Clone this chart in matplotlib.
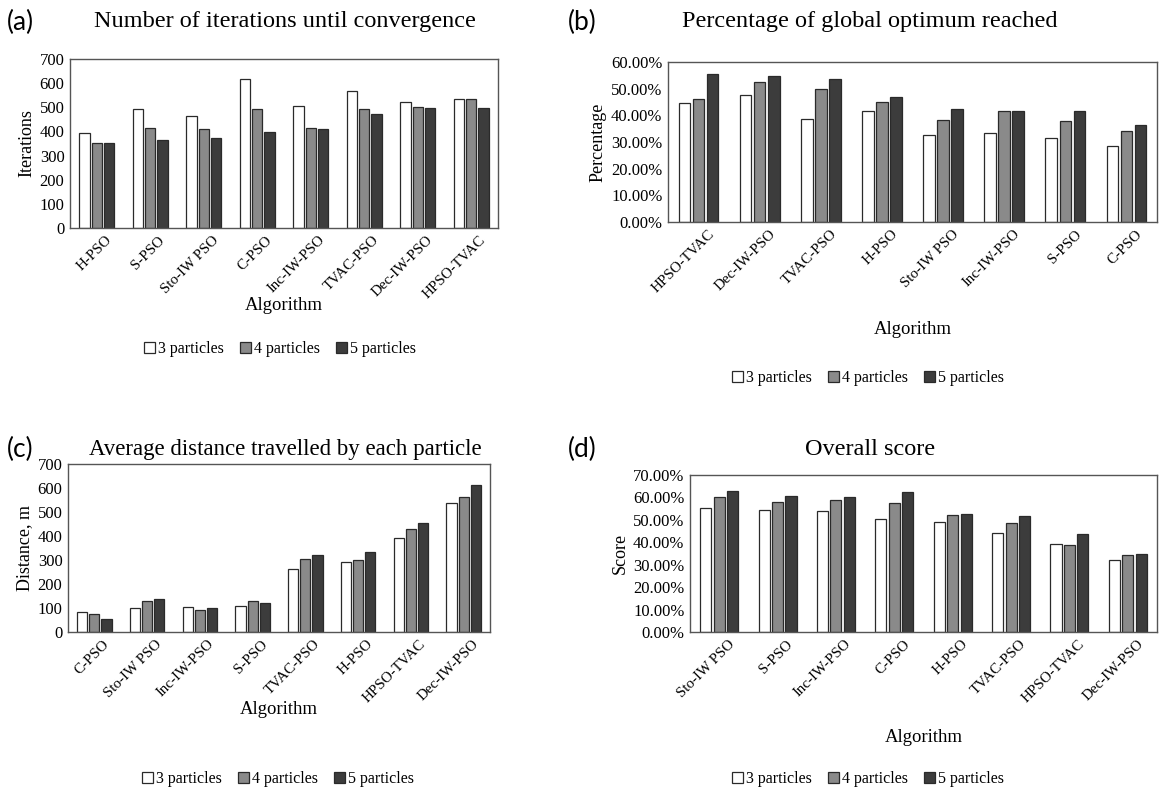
import matplotlib.pyplot as plt
from matplotlib.ticker import FuncFormatter
import numpy as np

# ---------- data ----------
series = ["3 particles", "4 particles", "5 particles"]

algos_a = ["H-PSO", "S-PSO", "Sto-IW PSO", "C-PSO", "Inc-IW-PSO", "TVAC-PSO", "Dec-IW-PSO", "HPSO-TVAC"]
iter_3 = [392, 492, 464, 618, 507, 566, 521, 533]
iter_4 = [352, 416, 412, 492, 413, 493, 500, 536]
iter_5 = [352, 366, 372, 399, 410, 474, 499, 499]

algos_b = ["HPSO-TVAC", "Dec-IW-PSO", "TVAC-PSO", "H-PSO", "Sto-IW PSO", "Inc-IW-PSO", "S-PSO", "C-PSO"]
glob_3 = [44.6, 47.5, 38.8, 41.8, 32.5, 33.3, 31.5, 28.4]
glob_4 = [46.3, 52.4, 49.8, 45.1, 38.1, 41.5, 37.9, 34.1]
glob_5 = [55.5, 54.8, 53.8, 47.0, 42.4, 41.5, 41.5, 36.3]

algos_c = ["C-PSO", "Sto-IW PSO", "Inc-IW-PSO", "S-PSO", "TVAC-PSO", "H-PSO", "HPSO-TVAC", "Dec-IW-PSO"]
dist_3 = [82, 102, 105, 108, 264, 291, 391, 538]
dist_4 = [73, 130, 91, 130, 304, 300, 428, 564]
dist_5 = [54, 136, 100, 122, 320, 332, 453, 614]

algos_d = ["Sto-IW PSO", "S-PSO", "Inc-IW-PSO", "C-PSO", "H-PSO", "TVAC-PSO", "HPSO-TVAC", "Dec-IW-PSO"]
score_3 = [55.5, 54.4, 53.9, 50.5, 49.2, 44.2, 39.4, 31.9]
score_4 = [60.2, 57.8, 59.0, 57.3, 52.2, 48.7, 39.0, 34.4]
score_5 = [63.0, 60.7, 60.1, 62.4, 52.5, 51.5, 43.8, 34.8]

colors = ["white", "#8a8a8a", "#3c3c3c"]
W, H = 1163, 791
serif = "Liberation Serif"


def box(l, t, r, b):
    return [l / W, 1 - b / H, (r - l) / W, (b - t) / H]


def fx(x):
    return x / W


def fy(y):
    return 1 - y / H


def panel(fig, rect, cats, vals, ylabel, ymax, pct, letter, title, lx, tx, ty, tsize, xl_y, leg_y, leg_x):
    ax = fig.add_axes(box(*rect))
    x = np.arange(len(cats))
    for i, v in enumerate(vals):
        ax.bar(x + (i - 1) * 0.23, v, 0.19, color=colors[i], edgecolor="#2a2a2a",
               linewidth=0.9, label=series[i])
    ax.set_xlim(-0.5, len(cats) - 0.5)
    ax.set_ylim(0, ymax)
    ax.set_yticks(np.arange(0, ymax + 1, 10 if pct else 100))
    if pct:
        ax.yaxis.set_major_formatter(FuncFormatter(lambda v, p: "%.2f%%" % v))
    # tick marks are hidden; labels sit a little right of the group centre like Excel
    ax.set_xticks(x + 0.15)
    ax.set_xticklabels(cats, rotation=45, ha="right", rotation_mode="anchor",
                       family=serif, fontsize=10.8)
    for t in ax.get_yticklabels():
        t.set_family(serif)
        t.set_fontsize(12)
    ax.tick_params(length=0, pad=4)
    ax.tick_params(axis="x", pad=4)
    for s in ax.spines.values():
        s.set_color("#555555")
        s.set_linewidth(1.0)
    ax.set_ylabel(ylabel, family=serif, fontsize=13, labelpad=3)
    fig.text(fx(lx), fy(ty), letter, family="Lato", fontsize=19, va="center", ha="left")
    fig.text(fx(tx), fy(ty), title, family=serif, fontsize=tsize, va="center", ha="center")
    cx = (rect[0] + rect[2]) / 2
    fig.text(fx(cx), fy(xl_y), "Algorithm", family=serif, fontsize=13.5, va="center", ha="center")
    fig.legend(*ax.get_legend_handles_labels(), loc="center", bbox_to_anchor=(fx(leg_x), fy(leg_y)),
               ncol=3, frameon=False, prop={"family": serif, "size": 11.5},
               handlelength=0.7, handleheight=0.7, handletextpad=0.2, columnspacing=1.0)
    return ax


fig = plt.figure(figsize=(W / 100, H / 100), dpi=100)

panel(fig, (70, 59, 498, 228), algos_a, [iter_3, iter_4, iter_5], "Iterations", 700, False,
      "(a)", "Number of iterations until convergence", 7, 285, 22, 17.5, 305, 349, 280)
panel(fig, (668, 62, 1157, 222), algos_b, [glob_3, glob_4, glob_5], "Percentage", 60, True,
      "(b)", "Percentage of global optimum reached", 568, 870, 22, 17.5, 330, 378, 868)
panel(fig, (68, 464, 490, 632), algos_c, [dist_3, dist_4, dist_5], "Distance, m", 700, False,
      "(c)", "Average distance travelled by each particle", 7, 285, 449, 16.5, 710, 779, 278)
panel(fig, (690, 475, 1157, 632), algos_d, [score_3, score_4, score_5], "Score", 70, True,
      "(d)", "Overall score", 568, 870, 449, 17.5, 738, 779, 868)

fig.savefig("out.png", dpi=100, facecolor="white")
